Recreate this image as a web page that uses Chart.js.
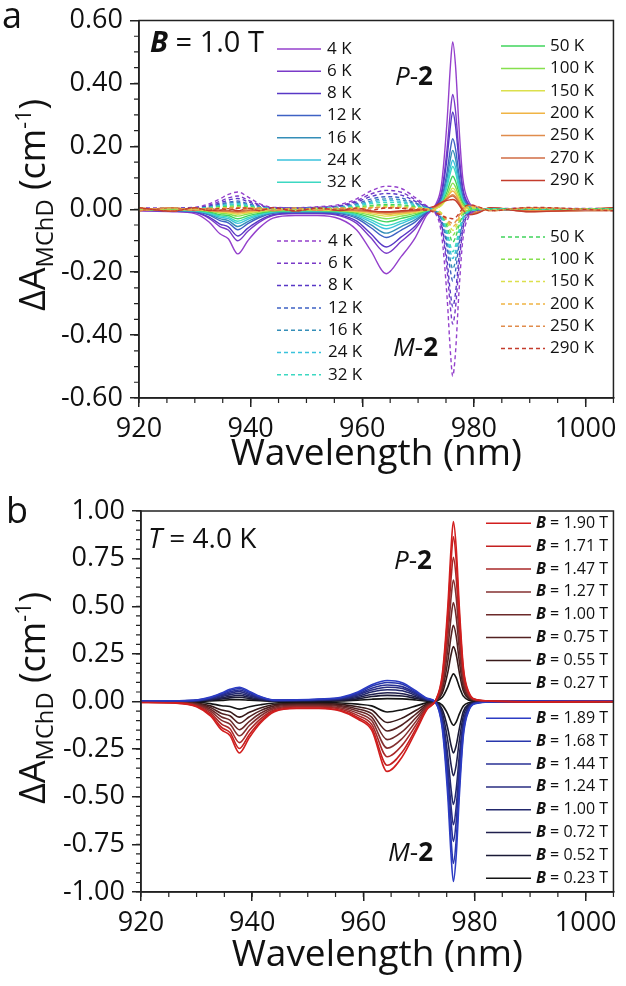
<!DOCTYPE html>
<html lang="en">
<head>
<meta charset="UTF-8">
<title>MChD spectra</title>
<style>
  body { margin: 0; background: #fff; }
  .panel { position: absolute; left: 0; }
  #wrapA { top: 0; }
  #wrapB { top: 490px; }
</style>
</head>
<body>
<div class="panel" id="wrapA"><canvas id="chartA" width="626" height="490"></canvas></div>
<div class="panel" id="wrapB"><canvas id="chartB" width="626" height="496"></canvas></div>

<script src="https://cdn.jsdelivr.net/npm/chart.js"></script>
<script>
// wavelength grid (nm) shared by every spectrum
const wavelength = [920, 926, 930, 932.5, 934.5, 936, 937.7, 939.5, 941.5, 944, 948, 952, 956, 959, 961.5, 964.3,
  967, 969.5, 971.5, 973, 974.2, 975.2, 975.8, 976.2, 976.7, 977.3, 978, 979, 980.5, 983, 990, 1005];

const xTicks = [920, 940, 960, 980, 1000];
const yTicksA = [-0.6, -0.4, -0.2, 0, 0.2, 0.4, 0.6];
const yTicksB = [-1, -0.75, -0.5, -0.25, 0, 0.25, 0.5, 0.75, 1];

// panel a, P-2 (solid), B = 1.0 T
const labelsP = ['4 K', '6 K', '8 K', '12 K', '16 K', '24 K', '32 K', '50 K', '100 K', '150 K', '200 K', '250 K', '270 K', '290 K'];
const pK4 = [-0.005, -0.008, -0.014, -0.04, -0.078, -0.094, -0.142, -0.10, -0.06, -0.028, -0.02, -0.02, -0.031, -0.066, -0.131, -0.205, -0.15, -0.09, -0.02, 0.01, 0.08, 0.282, 0.458, 0.532, 0.458, 0.271, 0.10, 0.027, 0.005, 0, -0.003, 0];
const pK6 = [-0.004, -0.006, -0.01, -0.028, -0.055, -0.066, -0.10, -0.07, -0.042, -0.02, -0.014, -0.014, -0.021, -0.045, -0.09, -0.14, -0.102, -0.062, -0.014, 0.008, 0.055, 0.193, 0.314, 0.365, 0.314, 0.186, 0.069, 0.018, 0.004, 0, -0.002, 0];
const pK8 = [-0.003, -0.005, -0.009, -0.024, -0.047, -0.056, -0.085, -0.06, -0.036, -0.017, -0.012, -0.012, -0.018, -0.038, -0.077, -0.12, -0.088, -0.053, -0.012, 0.007, 0.046, 0.164, 0.266, 0.309, 0.266, 0.158, 0.059, 0.015, 0.003, 0, -0.002, 0];
const pK12 = [-0.003, -0.004, -0.007, -0.018, -0.036, -0.043, -0.065, -0.046, -0.027, -0.013, -0.009, -0.009, -0.014, -0.029, -0.058, -0.09, -0.066, -0.04, -0.009, 0.005, 0.034, 0.119, 0.193, 0.224, 0.193, 0.114, 0.043, 0.011, 0.002, 0, -0.001, 0];
const pK16 = [-0.002, -0.004, -0.006, -0.015, -0.03, -0.036, -0.055, -0.039, -0.023, -0.011, -0.008, -0.008, -0.011, -0.024, -0.049, -0.076, -0.055, -0.033, -0.008, 0.004, 0.028, 0.099, 0.161, 0.187, 0.161, 0.095, 0.036, 0.009, 0.002, 0, -0.001, 0];
const pK24 = [-0.002, -0.003, -0.005, -0.013, -0.025, -0.03, -0.045, -0.032, -0.019, -0.009, -0.006, -0.006, -0.009, -0.02, -0.04, -0.062, -0.045, -0.027, -0.006, 0.003, 0.023, 0.083, 0.134, 0.156, 0.134, 0.08, 0.03, 0.008, 0.002, 0, -0.001, 0];
const pK32 = [-0.002, -0.003, -0.004, -0.011, -0.021, -0.025, -0.038, -0.027, -0.016, -0.008, -0.005, -0.005, -0.008, -0.017, -0.033, -0.052, -0.038, -0.023, -0.005, 0.003, 0.02, 0.072, 0.117, 0.136, 0.117, 0.069, 0.026, 0.007, 0.001, 0, -0.001, 0];
const pK50 = [-0.002, -0.002, -0.003, -0.008, -0.017, -0.02, -0.03, -0.021, -0.013, -0.006, -0.004, -0.004, -0.006, -0.013, -0.026, -0.04, -0.029, -0.018, -0.004, 0.002, 0.016, 0.056, 0.09, 0.105, 0.09, 0.054, 0.02, 0.005, 0.001, 0, -0.001, 0];
const pK100 = [-0.003, 0.002, -0.002, -0.006, -0.012, -0.015, -0.022, -0.015, -0.009, -0.004, -0.003, -0.003, -0.005, -0.01, -0.019, -0.03, -0.022, -0.013, -0.003, 0.002, 0.013, 0.044, 0.071, 0.083, 0.071, 0.042, 0.014, 0.002, -0.003, 0.002, -0.002, 0.001];
const pK150 = [0.003, -0.004, 0.001, -0.005, -0.009, -0.011, -0.016, -0.011, -0.007, -0.002, 0.002, -0.003, -0.003, -0.007, -0.014, -0.022, -0.016, -0.01, -0.002, 0.002, 0.012, 0.036, 0.058, 0.067, 0.058, 0.033, 0.008, -0.006, -0.005, 0.003, -0.003, 0.002];
const pK200 = [-0.004, 0.004, -0.003, -0.002, -0.007, -0.008, -0.012, -0.008, -0.004, 0.003, -0.002, 0.003, -0.004, -0.005, -0.01, -0.016, -0.012, -0.007, -0.001, 0.004, 0.018, 0.038, 0.052, 0.058, 0.05, 0.028, 0.003, -0.01, -0.008, 0.004, -0.004, 0.003];
const pK250 = [0.005, -0.005, 0.004, -0.003, -0.005, -0.006, -0.009, -0.004, 0.003, -0.004, 0.004, -0.003, 0.002, -0.004, -0.008, -0.012, -0.009, -0.005, 0, 0.006, 0.02, 0.034, 0.043, 0.046, 0.04, 0.022, 0, -0.014, -0.01, 0.005, -0.006, 0.004];
const pK270 = [-0.005, 0.005, -0.004, 0.003, -0.004, -0.005, -0.007, -0.003, -0.004, 0.004, -0.004, 0.004, -0.003, -0.002, -0.006, -0.01, -0.007, -0.004, 0.002, 0.008, 0.022, 0.033, 0.04, 0.042, 0.036, 0.02, -0.002, -0.016, -0.012, 0.004, -0.007, -0.004];
const pK290 = [0.004, -0.006, 0.005, -0.004, -0.003, 0.002, -0.005, 0.003, -0.004, 0.005, -0.005, 0.003, -0.004, 0.002, -0.005, -0.008, -0.005, -0.002, 0.003, 0.01, 0.022, 0.028, 0.03, 0.031, 0.028, 0.015, -0.004, -0.018, -0.014, 0.005, -0.008, 0.005];

// panel a, M-2 (dashed)
const labelsM = ['4 K', '6 K', '8 K', '12 K', '16 K', '24 K', '32 K', '50 K', '100 K', '150 K', '200 K', '250 K', '290 K'];
const mK4 = [0.003, 0.004, 0.006, 0.017, 0.033, 0.047, 0.055, 0.039, 0.019, 0.006, 0.005, 0.008, 0.015, 0.033, 0.058, 0.073, 0.066, 0.037, 0.011, -0.01, -0.08, -0.281, -0.456, -0.53, -0.456, -0.27, -0.10, -0.027, -0.005, 0.002, 0.003, 0.002];
const mK6 = [0.002, 0.003, 0.004, 0.013, 0.025, 0.036, 0.042, 0.029, 0.015, 0.004, 0.004, 0.006, 0.012, 0.027, 0.048, 0.06, 0.054, 0.03, 0.009, -0.008, -0.055, -0.193, -0.314, -0.365, -0.314, -0.186, -0.069, -0.018, -0.004, 0.002, 0.002, 0.002];
const mK8 = [0.002, 0.003, 0.003, 0.01, 0.02, 0.029, 0.034, 0.024, 0.012, 0.003, 0.003, 0.005, 0.01, 0.023, 0.04, 0.05, 0.045, 0.025, 0.008, -0.007, -0.047, -0.164, -0.267, -0.31, -0.267, -0.158, -0.059, -0.016, -0.003, 0.002, 0.002, 0.001];
const mK12 = [0.002, 0.002, 0.003, 0.008, 0.016, 0.022, 0.026, 0.018, 0.009, 0.003, 0.003, 0.004, 0.008, 0.018, 0.032, 0.04, 0.036, 0.02, 0.006, -0.005, -0.034, -0.121, -0.196, -0.228, -0.196, -0.116, -0.043, -0.011, -0.002, 0.001, 0.002, 0.001];
const mK16 = [0.001, 0.002, 0.002, 0.007, 0.013, 0.019, 0.022, 0.015, 0.008, 0.002, 0.002, 0.003, 0.007, 0.015, 0.026, 0.033, 0.03, 0.017, 0.005, -0.004, -0.029, -0.101, -0.163, -0.19, -0.163, -0.097, -0.036, -0.01, -0.002, 0.001, 0.001, 0.001];
const mK24 = [0.001, 0.002, 0.002, 0.005, 0.011, 0.015, 0.018, 0.013, 0.006, 0.002, 0.002, 0.003, 0.006, 0.013, 0.022, 0.028, 0.025, 0.014, 0.004, -0.003, -0.024, -0.083, -0.135, -0.157, -0.135, -0.08, -0.03, -0.008, -0.002, 0.001, 0.001, 0.001];
const mK32 = [0.001, 0.001, 0.002, 0.005, 0.009, 0.013, 0.015, 0.011, 0.005, 0.002, 0.002, 0.002, 0.004, 0.01, 0.018, 0.022, 0.02, 0.011, 0.003, -0.003, -0.02, -0.072, -0.116, -0.135, -0.116, -0.069, -0.026, -0.007, -0.001, 0.001, 0.001, 0.001];
const mK50 = [0.001, 0.001, 0.001, 0.003, 0.007, 0.009, 0.011, 0.008, 0.004, 0.001, 0.002, 0.002, 0.003, 0.007, 0.012, 0.015, 0.014, 0.008, 0.002, -0.002, -0.016, -0.056, -0.09, -0.105, -0.09, -0.054, -0.02, -0.005, -0.001, 0.001, 0.001, 0.001];
const mK100 = [0.003, -0.002, 0.002, 0.002, 0.005, 0.007, 0.008, 0.006, 0.003, -0.002, 0.003, -0.001, 0.002, 0.005, 0.009, 0.011, 0.01, 0.006, 0.002, -0.002, -0.013, -0.044, -0.071, -0.083, -0.071, -0.042, -0.014, -0.002, 0.003, -0.002, 0.003, 0];
const mK150 = [-0.003, 0.004, -0.002, 0.002, 0.004, 0.005, 0.006, 0.004, -0.002, 0.003, -0.003, 0.003, 0.002, 0.004, 0.006, 0.008, 0.007, 0.004, 0.001, -0.002, -0.012, -0.036, -0.058, -0.067, -0.058, -0.033, -0.008, 0.005, 0.004, -0.003, 0.003, -0.002];
const mK200 = [0.004, -0.004, 0.003, -0.002, 0.003, 0.004, 0.005, 0.003, 0.004, -0.003, 0.003, -0.003, 0.003, 0.002, 0.005, 0.006, 0.005, 0.003, 0.001, -0.004, -0.017, -0.036, -0.05, -0.055, -0.048, -0.027, -0.003, 0.009, 0.007, -0.004, 0.004, -0.003];
const mK250 = [-0.005, 0.005, -0.004, 0.003, -0.002, 0.004, 0.004, -0.003, 0.004, -0.004, 0.004, -0.003, 0.004, -0.002, 0.004, 0.005, 0.004, 0.002, -0.001, -0.006, -0.02, -0.034, -0.042, -0.045, -0.04, -0.022, 0, 0.012, 0.009, -0.005, 0.005, -0.004];
const mK290 = [0.005, -0.006, 0.005, -0.004, 0.003, -0.003, 0.003, 0.004, -0.004, 0.005, -0.005, 0.004, -0.003, 0.004, -0.003, 0.004, 0.003, -0.002, -0.003, -0.01, -0.02, -0.027, -0.029, -0.03, -0.027, -0.014, 0.003, 0.014, 0.01, -0.005, 0.006, -0.005];

// panel b, T = 4.0 K, P-2 fields then M-2 fields
const labelsPB = ['B = 1.90 T', 'B = 1.71 T', 'B = 1.47 T', 'B = 1.27 T', 'B = 1.00 T', 'B = 0.75 T', 'B = 0.55 T', 'B = 0.27 T'];
const labelsMB = ['B = 1.89 T', 'B = 1.68 T', 'B = 1.44 T', 'B = 1.24 T', 'B = 1.00 T', 'B = 0.72 T', 'B = 0.52 T', 'B = 0.23 T'];
const pT190 = [-0.005, -0.008, -0.027, -0.076, -0.149, -0.178, -0.27, -0.189, -0.113, -0.054, -0.037, -0.037, -0.051, -0.092, -0.15, -0.367, -0.29, -0.154, -0.04, 0.005, 0.142, 0.50, 0.812, 0.944, 0.812, 0.481, 0.179, 0.047, 0.009, 0.002, -0.002, 0];
const pT171 = [-0.005, -0.007, -0.025, -0.069, -0.136, -0.163, -0.247, -0.173, -0.104, -0.049, -0.034, -0.034, -0.047, -0.084, -0.137, -0.335, -0.265, -0.141, -0.037, 0.005, 0.13, 0.458, 0.744, 0.865, 0.744, 0.441, 0.164, 0.043, 0.009, 0.002, -0.002, 0];
const pT147 = [-0.004, -0.006, -0.022, -0.06, -0.119, -0.143, -0.216, -0.151, -0.091, -0.043, -0.029, -0.029, -0.041, -0.073, -0.119, -0.29, -0.229, -0.122, -0.032, 0.004, 0.114, 0.401, 0.651, 0.757, 0.651, 0.386, 0.144, 0.038, 0.008, 0.002, -0.002, 0];
const pT127 = [-0.004, -0.005, -0.018, -0.05, -0.099, -0.119, -0.18, -0.126, -0.076, -0.036, -0.025, -0.025, -0.034, -0.061, -0.10, -0.245, -0.194, -0.103, -0.027, 0.004, 0.096, 0.338, 0.549, 0.638, 0.549, 0.325, 0.121, 0.032, 0.006, 0.001, -0.001, 0];
const pT100 = [-0.003, -0.004, -0.015, -0.041, -0.081, -0.098, -0.148, -0.104, -0.062, -0.03, -0.02, -0.02, -0.028, -0.05, -0.082, -0.20, -0.158, -0.084, -0.022, 0.003, 0.078, 0.275, 0.446, 0.519, 0.446, 0.265, 0.099, 0.026, 0.005, 0.001, -0.001, 0];
const pT075 = [-0.003, -0.003, -0.011, -0.032, -0.063, -0.075, -0.114, -0.08, -0.048, -0.023, -0.016, -0.016, -0.022, -0.039, -0.064, -0.155, -0.122, -0.065, -0.017, 0.002, 0.06, 0.212, 0.344, 0.40, 0.344, 0.204, 0.076, 0.02, 0.004, 0.001, -0.001, 0];
const pT055 = [-0.002, -0.002, -0.008, -0.023, -0.045, -0.054, -0.082, -0.057, -0.034, -0.016, -0.011, -0.011, -0.015, -0.028, -0.045, -0.11, -0.087, -0.046, -0.012, 0.002, 0.043, 0.153, 0.248, 0.288, 0.248, 0.147, 0.055, 0.014, 0.003, 0.001, 0, 0];
const pT027 = [-0.001, -0.001, -0.004, -0.011, -0.022, -0.026, -0.04, -0.028, -0.017, -0.008, -0.006, -0.006, -0.008, -0.014, -0.023, -0.055, -0.043, -0.023, -0.006, 0.001, 0.022, 0.077, 0.125, 0.145, 0.125, 0.074, 0.028, 0.007, 0.001, 0, 0, 0];
const mT189 = [0.003, 0.004, 0.008, 0.023, 0.045, 0.064, 0.075, 0.053, 0.026, 0.008, 0.009, 0.013, 0.022, 0.05, 0.088, 0.11, 0.099, 0.055, 0.017, -0.005, -0.142, -0.50, -0.813, -0.945, -0.813, -0.482, -0.18, -0.047, -0.009, -0.002, 0.002, 0.002];
const mT168 = [0.003, 0.004, 0.007, 0.02, 0.041, 0.058, 0.068, 0.048, 0.024, 0.007, 0.008, 0.012, 0.02, 0.045, 0.08, 0.10, 0.09, 0.05, 0.015, -0.005, -0.128, -0.45, -0.731, -0.85, -0.731, -0.434, -0.162, -0.043, -0.008, -0.002, 0.002, 0.002];
const mT144 = [0.002, 0.003, 0.006, 0.018, 0.036, 0.051, 0.06, 0.042, 0.021, 0.006, 0.007, 0.01, 0.017, 0.039, 0.07, 0.087, 0.078, 0.044, 0.013, -0.004, -0.11, -0.39, -0.632, -0.735, -0.632, -0.375, -0.14, -0.037, -0.007, -0.002, 0.002, 0.001];
const mT124 = [0.002, 0.003, 0.005, 0.016, 0.031, 0.044, 0.052, 0.036, 0.018, 0.005, 0.006, 0.009, 0.015, 0.034, 0.06, 0.075, 0.068, 0.038, 0.011, -0.004, -0.097, -0.343, -0.556, -0.647, -0.556, -0.33, -0.123, -0.032, -0.006, -0.001, 0.001, 0.001];
const mT100 = [0.002, 0.002, 0.004, 0.013, 0.025, 0.036, 0.042, 0.029, 0.015, 0.004, 0.005, 0.007, 0.012, 0.028, 0.05, 0.062, 0.056, 0.031, 0.009, -0.003, -0.081, -0.286, -0.464, -0.54, -0.464, -0.275, -0.103, -0.027, -0.005, -0.001, 0.001, 0.001];
const mT072 = [0.001, 0.002, 0.003, 0.01, 0.019, 0.027, 0.032, 0.022, 0.011, 0.003, 0.004, 0.006, 0.009, 0.021, 0.037, 0.046, 0.041, 0.023, 0.007, -0.002, -0.059, -0.207, -0.335, -0.39, -0.335, -0.199, -0.074, -0.02, -0.004, -0.001, 0.001, 0.001];
const mT052 = [0.001, 0.001, 0.002, 0.007, 0.013, 0.019, 0.022, 0.015, 0.008, 0.002, 0.003, 0.004, 0.006, 0.014, 0.026, 0.032, 0.029, 0.016, 0.005, -0.002, -0.041, -0.143, -0.232, -0.27, -0.232, -0.138, -0.051, -0.014, -0.003, -0.001, 0, 0];
const mT023 = [0.001, 0.001, 0.001, 0.003, 0.006, 0.009, 0.01, 0.007, 0.004, 0.001, 0.001, 0.002, 0.003, 0.007, 0.012, 0.015, 0.014, 0.008, 0.002, -0.001, -0.019, -0.066, -0.108, -0.125, -0.108, -0.064, -0.024, -0.006, -0.001, 0, 0, 0];

// colours
const tempColor = {
  '4 K': '#9440cc', '6 K': '#7a3ac8', '8 K': '#5838c6', '12 K': '#3e62c4', '16 K': '#348eb8',
  '24 K': '#3ac2dc', '32 K': '#3cd8c2', '50 K': '#40d45c', '100 K': '#86e04e', '150 K': '#dce04c',
  '200 K': '#f0b444', '250 K': '#e08c4c', '270 K': '#d06c44', '290 K': '#c43c2c'
};
const redShades = ['#d21e1e', '#c42020', '#a82828', '#843030', '#6c2a2a', '#522222', '#381a1a', '#141414'];
const blueShades = ['#2c3cc4', '#2836ac', '#283094', '#282c80', '#22286c', '#20204e', '#1a1a36', '#141414'];

const FONT = '"Open Sans", "DejaVu Sans", sans-serif';

function toPoints(arr) {
  return wavelength.map((w, i) => ({ x: w, y: arr[i] }));
}

// draw a row of text runs with mixed styles
function drawRuns(ctx, runs, x, y, size) {
  let cx = x;
  runs.forEach(r => {
    const s = size * (r.k || 1);
    ctx.font = (r.s || '') + ' ' + s + 'px ' + FONT;
    ctx.fillText(r.t, cx, y + (r.dy || 0));
    cx += ctx.measureText(r.t).width;
  });
  return cx - x;
}
function runsWidth(ctx, runs, size) {
  let w = 0;
  runs.forEach(r => {
    ctx.font = (r.s || '') + ' ' + size * (r.k || 1) + 'px ' + FONT;
    w += ctx.measureText(r.t).width;
  });
  return w;
}

const yTitleRuns = [{ t: 'ΔA' }, { t: 'MChD', k: 0.66, dy: 8 }, { t: ' (cm' }, { t: '-1', k: 0.6, dy: -14 }, { t: ')' }];

const decor = {
  id: 'decor',
  afterDraw(chart, args, o) {
    const { ctx, chartArea: ca } = chart;
    const xs = chart.scales.x, ys = chart.scales.y;
    ctx.save();
    ctx.fillStyle = '#111';
    ctx.strokeStyle = '#222';
    ctx.lineWidth = 1.5;
    ctx.strokeRect(ca.left, ca.top, ca.right - ca.left, ca.bottom - ca.top);

    // minor ticks
    ctx.lineWidth = 1.2;
    ctx.beginPath();
    let n = Math.round((xs.max - xs.min) / o.minorX);
    for (let i = 0; i <= n; i++) {
      const px = xs.getPixelForValue(xs.min + i * o.minorX);
      ctx.moveTo(px, ca.bottom); ctx.lineTo(px, ca.bottom + 5);
    }
    n = Math.round((ys.max - ys.min) / o.minorY);
    for (let i = 0; i <= n; i++) {
      const py = ys.getPixelForValue(ys.min + i * o.minorY);
      ctx.moveTo(ca.left, py); ctx.lineTo(ca.left - 5, py);
    }
    ctx.stroke();

    // legend columns
    ctx.textBaseline = 'middle';
    o.legend.forEach(col => {
      col.items.forEach((idx, k) => {
        const ds = chart.data.datasets[idx];
        const yy = col.y0 + k * col.dy;
        ctx.strokeStyle = ds.borderColor;
        ctx.lineWidth = 1.5;
        ctx.setLineDash(ds.borderDash || []);
        ctx.beginPath(); ctx.moveTo(col.x1, yy); ctx.lineTo(col.x2, yy); ctx.stroke();
        ctx.setLineDash([]);
        const lab = ds.label;
        const runs = lab.startsWith('B = ') ? [{ t: 'B', s: 'bold italic' }, { t: lab.slice(1) }] : [{ t: lab }];
        drawRuns(ctx, runs, col.tx, yy, o.legendSize);
      });
    });

    // annotations
    ctx.textBaseline = 'alphabetic';
    o.notes.forEach(nt => drawRuns(ctx, nt.runs, nt.x, nt.y, nt.size));

    // panel letter
    ctx.font = o.letter.size + 'px ' + FONT;
    ctx.fillText(o.letter.t, o.letter.x, o.letter.y);

    // x title
    ctx.font = '37px ' + FONT;
    ctx.textAlign = 'center';
    ctx.fillText('Wavelength (nm)', (ca.left + ca.right) / 2, o.xTitleY);
    ctx.textAlign = 'left';

    // y title (rotated)
    ctx.translate(o.yTitle.x, o.yTitle.cy);
    ctx.rotate(-Math.PI / 2);
    const w = runsWidth(ctx, yTitleRuns, 36);
    drawRuns(ctx, yTitleRuns, -w / 2, 0, 36);
    ctx.restore();
  }
};

function makeScales(yMin, yMax, yTicks, yWidth, xHeight) {
  const tickFont = { family: FONT, size: 27, lineHeight: 1 };
  return {
    x: {
      type: 'linear', min: 920, max: 1005,
      afterBuildTicks: s => { s.ticks = xTicks.map(v => ({ value: v })); },
      afterFit: s => { s.height = xHeight; },
      ticks: { font: tickFont, color: '#111', padding: 9, autoSkip: false, maxRotation: 0, callback: v => String(v) },
      grid: { drawOnChartArea: false, drawTicks: true, tickLength: 9, color: '#222', lineWidth: 1.5 },
      border: { display: true, color: '#222', width: 1.5 }
    },
    y: {
      type: 'linear', min: yMin, max: yMax,
      afterBuildTicks: s => { s.ticks = yTicks.map(v => ({ value: v })); },
      afterFit: s => { s.width = yWidth; },
      ticks: { font: tickFont, color: '#111', padding: 7, autoSkip: false, callback: v => v.toFixed(2) },
      grid: { drawOnChartArea: false, drawTicks: true, tickLength: 9, color: '#222', lineWidth: 1.5 },
      border: { display: true, color: '#222', width: 1.5 }
    }
  };
}

const lineBase = { pointRadius: 0, fill: false, cubicInterpolationMode: 'monotone' };

// ---- panel a ----
const seriesP = [pK4, pK6, pK8, pK12, pK16, pK24, pK32, pK50, pK100, pK150, pK200, pK250, pK270, pK290];
const seriesM = [mK4, mK6, mK8, mK12, mK16, mK24, mK32, mK50, mK100, mK150, mK200, mK250, mK290];
const dsA = [];
labelsP.forEach((lab, i) => dsA.push(Object.assign({
  label: lab, data: toPoints(seriesP[i]), borderColor: tempColor[lab], borderWidth: 1.4, order: 40 - i
}, lineBase)));
labelsM.forEach((lab, i) => dsA.push(Object.assign({
  label: lab, data: toPoints(seriesM[i]), borderColor: tempColor[lab], borderWidth: 1.4, borderDash: [4, 3], order: 20 - i
}, lineBase)));

new Chart(document.getElementById('chartA'), {
  type: 'line',
  data: { datasets: dsA },
  options: {
    responsive: false, animation: false, devicePixelRatio: 1,
    layout: { padding: { top: 15, right: 10, left: 0, bottom: 0 } },
    scales: makeScales(-0.6, 0.6, yTicksA, 139, 92),
    plugins: {
      legend: { display: false }, tooltip: { enabled: false },
      decor: {
        minorX: 5, minorY: 0.05, legendSize: 17, xTitleY: 465,
        yTitle: { x: 45, cy: 205 },
        letter: { t: 'a', x: 2, y: 28, size: 36 },
        legend: [
          { x1: 277, x2: 321, tx: 327, y0: 49, dy: 22.2, items: [0, 1, 2, 3, 4, 5, 6] },
          { x1: 501, x2: 545, tx: 550, y0: 46, dy: 22.4, items: [7, 8, 9, 10, 11, 12, 13] },
          { x1: 277, x2: 321, tx: 328, y0: 241, dy: 22.3, items: [14, 15, 16, 17, 18, 19, 20] },
          { x1: 501, x2: 545, tx: 550, y0: 237, dy: 22.3, items: [21, 22, 23, 24, 25, 26] }
        ],
        notes: [
          { x: 150, y: 52, size: 29, runs: [{ t: 'B', s: 'bold italic' }, { t: ' = 1.0 T' }] },
          { x: 395, y: 85, size: 26, runs: [{ t: 'P', s: 'italic' }, { t: '-' }, { t: '2', s: 'bold' }] },
          { x: 393, y: 356, size: 26, runs: [{ t: 'M', s: 'italic' }, { t: '-' }, { t: '2', s: 'bold' }] }
        ]
      }
    }
  },
  plugins: [decor]
});

// ---- panel b ----
const seriesPB = [pT190, pT171, pT147, pT127, pT100, pT075, pT055, pT027];
const seriesMB = [mT189, mT168, mT144, mT124, mT100, mT072, mT052, mT023];
const dsB = [];
labelsPB.forEach((lab, i) => dsB.push(Object.assign({
  label: lab, data: toPoints(seriesPB[i]), borderColor: redShades[i], borderWidth: 1.6, order: 10 + i
}, lineBase)));
labelsMB.forEach((lab, i) => dsB.push(Object.assign({
  label: lab, data: toPoints(seriesMB[i]), borderColor: blueShades[i], borderWidth: 1.6, order: 10 + i
}, lineBase)));

new Chart(document.getElementById('chartB'), {
  type: 'line',
  data: { datasets: dsB },
  options: {
    responsive: false, animation: false, devicePixelRatio: 1,
    layout: { padding: { top: 21, right: 8, left: 0, bottom: 0 } },
    scales: makeScales(-1, 1, yTicksB, 141, 94),
    plugins: {
      legend: { display: false }, tooltip: { enabled: false },
      decor: {
        minorX: 5, minorY: 0.05, legendSize: 16, xTitleY: 476,
        yTitle: { x: 45, cy: 208 },
        letter: { t: 'b', x: 6, y: 33, size: 36 },
        legend: [
          { x1: 486, x2: 531, tx: 536, y0: 33.3, dy: 22.86, items: [0, 1, 2, 3, 4, 5, 6, 7] },
          { x1: 486, x2: 531, tx: 536, y0: 228.3, dy: 22.86, items: [8, 9, 10, 11, 12, 13, 14, 15] }
        ],
        notes: [
          { x: 148, y: 58, size: 28, runs: [{ t: 'T', s: 'italic' }, { t: ' = 4.0 K' }] },
          { x: 394, y: 79, size: 26, runs: [{ t: 'P', s: 'italic' }, { t: '-' }, { t: '2', s: 'bold' }] },
          { x: 388, y: 371, size: 26, runs: [{ t: 'M', s: 'italic' }, { t: '-' }, { t: '2', s: 'bold' }] }
        ]
      }
    }
  },
  plugins: [decor]
});
</script>
</body>
</html>
